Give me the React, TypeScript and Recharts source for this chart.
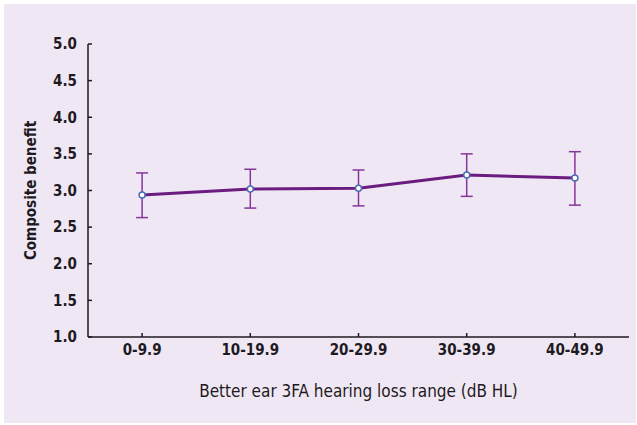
import { ErrorBar, Label, Line, LineChart, XAxis, YAxis } from "recharts";

// Better-ear hearing loss bands and composite benefit (mean with upper/lower bars)
const RANGES = ["0-9.9", "10-19.9", "20-29.9", "30-39.9", "40-49.9"];
const MEANS = [2.94, 3.02, 3.03, 3.21, 3.17];
const UPPER = [3.24, 3.29, 3.28, 3.5, 3.53];
const LOWER = [2.63, 2.76, 2.79, 2.92, 2.8];
const Y_TICKS = [1, 1.5, 2, 2.5, 3, 3.5, 4, 4.5, 5];

const data = RANGES.map((range, i) => ({
  range,
  benefit: MEANS[i],
  err: [MEANS[i] - LOWER[i], UPPER[i] - MEANS[i]],
}));

const FONT = "'DejaVu Sans Condensed', 'DejaVu Sans', sans-serif";
const INK = "#1f1a22";

export default function App() {
  return (
    <div style={{ position: "absolute", left: 0, top: 0, width: 637, height: 425, background: "#ffffff" }}>
      <div
        style={{
          position: "absolute",
          left: 4,
          top: 4,
          width: 632,
          height: 419,
          background: "#efe8f4",
        }}
      />
      <LineChart
        width={637}
        height={425}
        data={data}
        margin={{ top: 44, right: 8, bottom: 0, left: 0 }}
        style={{ position: "absolute", left: 0, top: 0, fontFamily: FONT }}
      >
        <XAxis
          dataKey="range"
          scale="band"
          height={88}
          stroke={INK}
          strokeWidth={1.5}
          tickSize={-4}
          tickMargin={11}
          tick={{ fill: INK, fontSize: 15, fontWeight: 700 }}
        >
          <Label
            content={({ viewBox }: any) => (
              <text
                x={viewBox.x + viewBox.width / 2}
                y={viewBox.y + 60}
                textAnchor="middle"
                fill={INK}
                fontSize={17}
                fontFamily={FONT}
              >
                Better ear 3FA hearing loss range (dB HL)
              </text>
            )}
          />
        </XAxis>
        <YAxis
          width={88}
          domain={[1, 5]}
          ticks={Y_TICKS}
          interval={0}
          tickFormatter={(v: number) => v.toFixed(1)}
          stroke={INK}
          strokeWidth={1.5}
          tickSize={-4}
          tickMargin={15}
          tick={{ fill: INK, fontSize: 15, fontWeight: 700 }}
        >
          <Label
            content={({ viewBox }: any) => {
              const cx = 31;
              const cy = viewBox.y + viewBox.height / 2;
              return (
                <text
                  x={cx}
                  y={cy}
                  transform={`rotate(-90 ${cx} ${cy})`}
                  textAnchor="middle"
                  dominantBaseline="central"
                  fill={INK}
                  fontSize={15}
                  fontWeight={700}
                  fontFamily={FONT}
                >
                  Composite benefit
                </text>
              );
            }}
          />
        </YAxis>
        <Line
          type="linear"
          dataKey="benefit"
          stroke="#6a1c80"
          strokeWidth={3}
          isAnimationActive={false}
          dot={{ r: 3, fill: "#ffffff", stroke: "#4d6cb3", strokeWidth: 1.5 }}
        >
          <ErrorBar dataKey="err" direction="y" width={6} stroke="#86359a" strokeWidth={1.5} />
        </Line>
      </LineChart>
    </div>
  );
}
